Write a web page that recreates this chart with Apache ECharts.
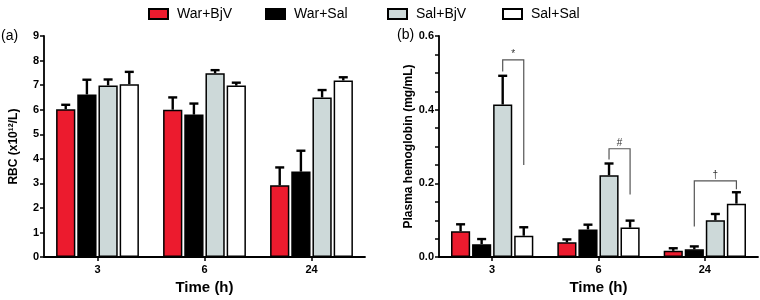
<!DOCTYPE html>
<html>
<head>
<meta charset="utf-8">
<script src="https://cdn.jsdelivr.net/npm/echarts@6/dist/echarts.min.js"></script>
<style>
  html, body { margin: 0; padding: 0; background: #fff; }
  #chart { width: 760px; height: 300px; }
</style>
</head>
<body>
<div id="chart"></div>
<script>
const categories = ['3', '6', '24'];
const groupNames = ['War+BjV', 'War+Sal', 'Sal+BjV', 'Sal+Sal'];

// (a) RBC, mean and SD per group, by time point
const rbcMean = [
  [6.02, 6.0, 2.92],
  [6.62, 5.8, 3.48],
  [6.99, 7.48, 6.5],
  [7.04, 6.98, 7.19],
];
const rbcSD = [
  [0.18, 0.5, 0.73],
  [0.6, 0.45, 0.85],
  [0.24, 0.13, 0.3],
  [0.5, 0.12, 0.13],
];

// (b) plasma hemoglobin
const hbMean = [
  [0.07, 0.04, 0.017],
  [0.035, 0.075, 0.021],
  [0.414, 0.222, 0.1],
  [0.058, 0.08, 0.145],
];
const hbSD = [
  [0.019, 0.008, 0.007],
  [0.014, 0.013, 0.008],
  [0.078, 0.032, 0.017],
  [0.023, 0.019, 0.031],
];

// significance brackets on (b)
const bracketCat = [0, 1, 2];
const bracketFrom = [2, 2, 1];
const bracketTo = [3, 3, 3];
const bracketTop = [0.535, 0.294, 0.207];
const bracketFromEnd = [0.504, 0.265, 0.083];
const bracketToEnd = [0.25, 0.17, 0.184];
const bracketMark = ['*', '#', '†'];

const colors = ['#ec1b2e', '#000000', '#cdd9d9', '#ffffff'];
const font = 'Liberation Sans, Arial, Helvetica, sans-serif';
const BAR_W = 0.18;
const BAR_GAP = 0.1;

const barOffset = (s, bandW) => (s - 1.5) * bandW * BAR_W * (1 + BAR_GAP);

const chart = echarts.init(document.getElementById('chart'), null, { renderer: 'canvas' });

function barSeries(means, axis) {
  return groupNames.map((name, s) => ({
    name,
    type: 'bar',
    xAxisIndex: axis,
    yAxisIndex: axis,
    barWidth: BAR_W * 100 + '%',
    barGap: BAR_GAP * 100 + '%',
    itemStyle: { color: colors[s], borderColor: '#000', borderWidth: 1.5 },
    emphasis: { disabled: true },
    data: means[s],
  }));
}

function errorSeries(means, sds, axis) {
  const data = [];
  means.forEach((row, s) => row.forEach((m, c) => data.push([c, s, m, m + sds[s][c]])));
  return {
    type: 'custom',
    xAxisIndex: axis,
    yAxisIndex: axis,
    z: 5,
    silent: true,
    encode: { x: 0, y: [2, 3] },
    data,
    renderItem(params, api) {
      const c = api.value(0);
      const s = api.value(1);
      const bandW = api.size([1, 0])[0];
      const dx = barOffset(s, bandW);
      const p0 = api.coord([c, api.value(2)]);
      const p1 = api.coord([c, api.value(3)]);
      const x = p0[0] + dx;
      const cap = 4.5;
      const style = { stroke: '#000', lineWidth: 2.4 };
      return {
        type: 'group',
        children: [
          { type: 'line', shape: { x1: x, y1: p0[1], x2: x, y2: p1[1] }, style },
          { type: 'line', shape: { x1: x - cap, y1: p1[1], x2: x + cap, y2: p1[1] }, style },
        ],
      };
    },
  };
}

const bracketSeries = {
  type: 'custom',
  xAxisIndex: 1,
  yAxisIndex: 1,
  z: 6,
  silent: true,
  encode: { x: 0, y: 3 },
  data: bracketCat.map((c, i) => [c, bracketFrom[i], bracketTo[i], bracketTop[i], bracketFromEnd[i], bracketToEnd[i], i]),
  renderItem(params, api) {
    const c = api.value(0);
    const bandW = api.size([1, 0])[0];
    const xa = api.coord([c, 0])[0] + barOffset(api.value(1), bandW);
    const xb = api.coord([c, 0])[0] + barOffset(api.value(2), bandW);
    const yt = api.coord([c, api.value(3)])[1];
    const ya = api.coord([c, api.value(4)])[1];
    const yb = api.coord([c, api.value(5)])[1];
    return {
      type: 'group',
      children: [
        {
          type: 'polyline',
          shape: { points: [[xa, ya], [xa, yt], [xb, yt], [xb, yb]] },
          style: { stroke: '#555', lineWidth: 1.2, fill: null },
        },
        {
          type: 'text',
          style: {
            x: (xa + xb) / 2, y: yt - 1,
            text: bracketMark[api.value(6)],
            fill: '#333', font: '10px ' + font,
            align: 'center', verticalAlign: 'bottom',
          },
        },
      ],
    };
  },
};

const axisLine = { show: true, lineStyle: { color: '#000', width: 1.8 } };
const tickStyle = { color: '#000', width: 1.5 };
const labelFont = { color: '#000', fontFamily: font, fontWeight: 'bold', fontSize: 11 };

function xAxis(grid, gap) {
  return {
    type: 'category',
    gridIndex: grid,
    data: categories,
    axisLine,
    axisTick: { show: true, alignWithLabel: true, length: 4, lineStyle: tickStyle },
    axisLabel: Object.assign({ margin: 7 }, labelFont),
    name: 'Time (h)',
    nameLocation: 'middle',
    nameGap: gap,
    nameTextStyle: { color: '#000', fontFamily: font, fontWeight: 'bold', fontSize: 15 },
    splitLine: { show: false },
  };
}

const legends = groupNames.map((name, i) => ({
  data: [name],
  left: [143, 260, 382, 497][i],
  top: 2,
  icon: 'rect',
  itemWidth: 19,
  itemHeight: 10,
  selectedMode: false,
  textStyle: { color: '#000', fontFamily: font, fontSize: 14, padding: [0, 0, 0, 4] },
}));

chart.setOption({
  animation: false,
  textStyle: { fontFamily: font },
  title: [
    { text: '(a)', left: -4, top: 24, textStyle: { fontSize: 14, fontWeight: 'normal', color: '#000', fontFamily: font } },
    { text: '(b)', left: 392, top: 23, textStyle: { fontSize: 14, fontWeight: 'normal', color: '#000', fontFamily: font } },
  ],
  legend: legends,
  grid: [
    { left: 44, right: 395, top: 36, bottom: 37 },
    { left: 439, right: 2, top: 36, bottom: 38 },
  ],
  xAxis: [xAxis(0, 17), xAxis(1, 22)],
  yAxis: [
    {
      type: 'value',
      gridIndex: 0,
      min: 0, max: 9, interval: 1,
      axisLine,
      axisTick: { show: true, length: 4, lineStyle: tickStyle },
      axisLabel: Object.assign({ margin: 5 }, labelFont),
      splitLine: { show: false },
      name: 'RBC (x10¹²/L)',
      nameLocation: 'middle',
      nameGap: 24,
      nameTextStyle: { color: '#000', fontFamily: font, fontWeight: 'bold', fontSize: 12 },
    },
    {
      type: 'value',
      gridIndex: 1,
      min: 0, max: 0.6, interval: 0.2,
      axisLine,
      axisTick: { show: true, length: 4, lineStyle: tickStyle },
      minorTick: { show: true, splitNumber: 4, length: 4, lineStyle: tickStyle },
      axisLabel: Object.assign({ margin: 5, formatter: v => v.toFixed(1) }, labelFont),
      splitLine: { show: false },
      name: 'Plasma hemoglobin (mg/mL)',
      nameLocation: 'middle',
      nameGap: 24,
      nameTextStyle: { color: '#000', fontFamily: font, fontWeight: 'bold', fontSize: 12 },
    },
  ],
  series: [
    ...barSeries(rbcMean, 0),
    ...barSeries(hbMean, 1),
    errorSeries(rbcMean, rbcSD, 0),
    errorSeries(hbMean, hbSD, 1),
    bracketSeries,
  ],
});
</script>
</body>
</html>
